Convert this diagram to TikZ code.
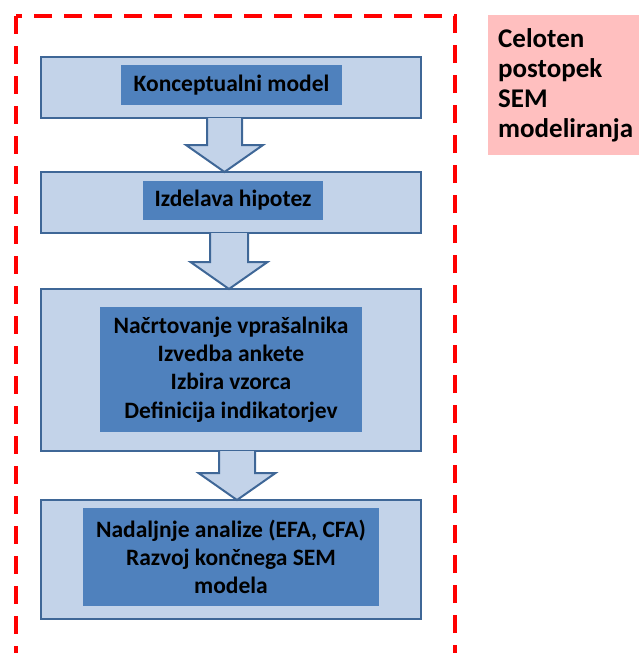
\documentclass[tikz,border=0pt]{standalone}
\usepackage{fontspec}
\setmainfont{Carlito}
\usetikzlibrary{calc}

\definecolor{boxfill}{HTML}{C3D3E9}
\definecolor{boxline}{HTML}{3F6797}
\definecolor{innerfill}{HTML}{4F81BD}
\definecolor{labelfill}{HTML}{FFBFBF}
\definecolor{framered}{HTML}{FF0000}

% block arrow from the bottom of one box to the top of the next
% #1 upper node, #2 lower node, #3 x position of the axis, #4 half shaft width
\newcommand\blockarrow[4]{%
  \draw[flow] let \p1=(#1.south), \p2=(#2.north) in
    (#3pt-#4pt,\y1) -- (#3pt-#4pt,\y2+27pt) -- (#3pt-38.5pt,\y2+27pt)
    -- (#3pt,\y2) -- (#3pt+38.5pt,\y2+27pt) -- (#3pt+#4pt,\y2+27pt)
    -- (#3pt+#4pt,\y1);
}

\begin{document}
\begin{tikzpicture}[x=1pt,y=1pt,
  outerbox/.style={draw=boxline, line width=2pt, fill=boxfill,
    minimum width=380pt, inner sep=0pt, outer sep=0pt},
  innerbox/.style={fill=innerfill, inner sep=0pt, outer sep=0pt, align=center,
    font=\fontsize{23.5}{28.3}\selectfont\bfseries},
  flow/.style={draw=boxline, line width=2pt, fill=boxfill, line join=miter},
  frame/.style={draw=framered, line width=4pt, dash pattern=on 18pt off 12pt},
  labelbox/.style={fill=labelfill, inner xsep=10pt, inner ysep=0pt, align=left,
    text width=140pt, minimum height=140pt,
    font=\fontsize{27}{30}\selectfont\bfseries}]
\useasboundingbox (0,0) rectangle (638,-653);

% dashed frame around the whole process
\draw[frame] (16,-16) rectangle (455,-720);

% stage boxes
\node[outerbox, minimum height=61pt]  (b1) at (231,-87.5) {};
\node[outerbox, minimum height=61pt]  (b2) at (231,-202.5) {};
\node[outerbox, minimum height=162pt] (b3) at (231,-370) {};
\node[outerbox, minimum height=119pt] (b4) at (231,-559.5) {};

% stage labels
\node[innerbox, minimum width=221pt, minimum height=40pt] (t1) at (231.5,-85)
  {Konceptualni model};
\node[innerbox, minimum width=180pt, minimum height=39pt] (t2) at (233,-200.5)
  {Izdelava hipotez};
\node[innerbox, minimum width=262pt, minimum height=125pt] (t3) at (231,-369.5)
  {Načrtovanje vprašalnika\\Izvedba ankete\\Izbira vzorca\\Definicija indikatorjev};
\node[innerbox, minimum width=296pt, minimum height=98pt] (t4) at (231,-557)
  {Nadaljnje analize (EFA, CFA)\\Razvoj končnega SEM\\modela};

% arrows between stages
\blockarrow{b1}{b2}{224.5}{17.5}
\blockarrow{b2}{b3}{229}{19}
\blockarrow{b3}{b4}{237}{18}

% title box
\node[labelbox, anchor=north west] (title) at (488,-15)
  {Celoten\\postopek\\SEM\\modeliranja};
\end{tikzpicture}
\end{document}
